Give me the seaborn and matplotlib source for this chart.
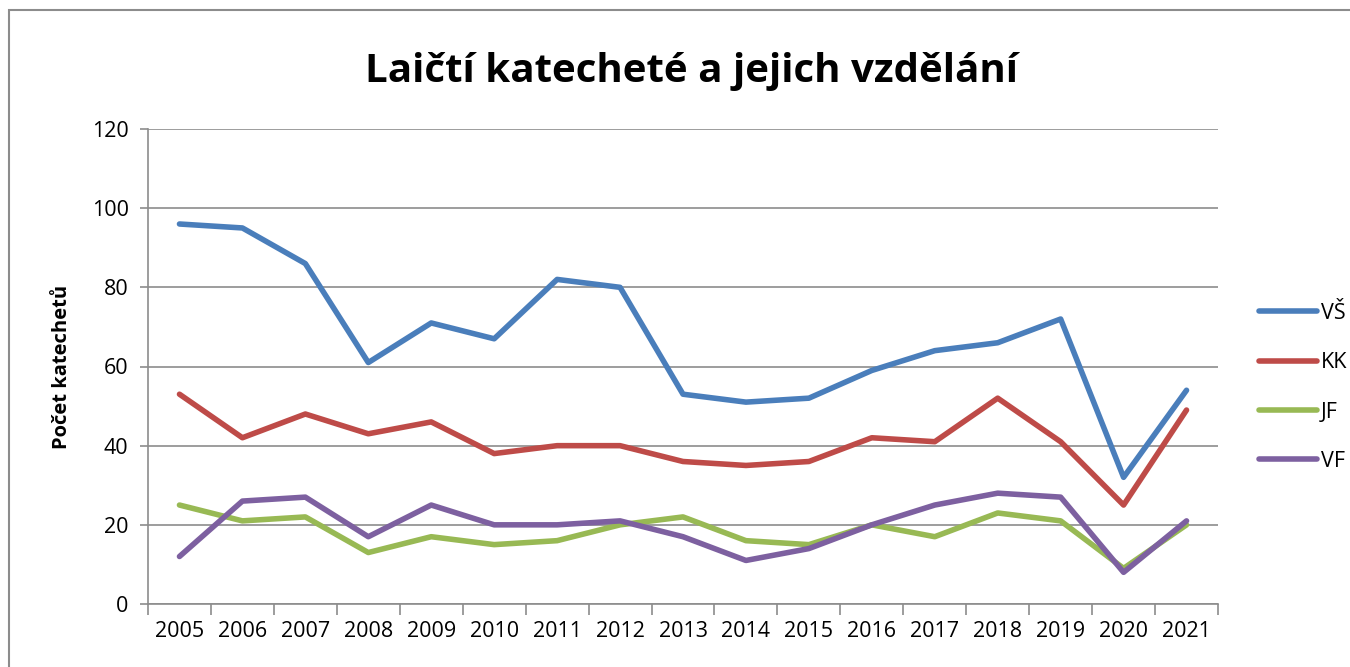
import matplotlib
matplotlib.use("Agg")
import matplotlib.pyplot as plt
import seaborn as sns
import pandas as pd
import numpy as np
from matplotlib.patches import Rectangle

years = ["2005", "2006", "2007", "2008", "2009", "2010", "2011", "2012", "2013",
         "2014", "2015", "2016", "2017", "2018", "2019", "2020", "2021"]
vs = [96, 95, 86, 61, 71, 67, 82, 80, 53, 51, 52, 59, 64, 66, 72, 32, 54]
kk = [53, 42, 48, 43, 46, 38, 40, 40, 36, 35, 36, 42, 41, 52, 41, 25, 49]
jf = [25, 21, 22, 13, 17, 15, 16, 20, 22, 16, 15, 20, 17, 23, 21, 9, 20]
vf = [12, 26, 27, 17, 25, 20, 20, 21, 17, 11, 14, 20, 25, 28, 27, 8, 21]
series_names = ["VŠ", "KK", "JF", "VF"]
colors = ["#4A7EBB", "#BE4B48", "#98B954", "#7D60A0"]

rows = []
for name, vals in zip(series_names, [vs, kk, jf, vf]):
    for i, v in enumerate(vals):
        rows.append({"idx": i, "value": v, "series": name})
df = pd.DataFrame(rows)

sns.set_theme(style="white")
plt.rcParams['font.family'] = ['Open Sans', 'DejaVu Sans']
plt.rcParams['text.color'] = 'black'
plt.rcParams['axes.labelcolor'] = 'black'
plt.rcParams['xtick.color'] = 'black'
plt.rcParams['ytick.color'] = 'black'

fig = plt.figure(figsize=(13.5, 6.67), dpi=100)
fig.patches.append(Rectangle((9 / 1350, -0.1), 1.2, 1.1 - 10 / 667,
                             transform=fig.transFigure, fill=False,
                             edgecolor="#8c8c8c", linewidth=1.5))
ax = fig.add_axes([148 / 1350, 63 / 667, 1070 / 1350, 475 / 667])

sns.lineplot(data=df, x="idx", y="value", hue="series", palette=colors,
             hue_order=series_names, linewidth=4, ax=ax, legend=True)

ax.set_xlim(-0.5, len(years) - 0.5)
ax.set_ylim(0, 120)
ax.set_yticks(np.arange(0, 121, 20))
ax.yaxis.grid(True, color="#8c8c8c", linewidth=1.2)
ax.set_xticks(range(len(years)))
ax.set_xticklabels(years)
ax.set_xticks(np.arange(-0.5, len(years), 1), minor=True)
ax.tick_params(axis="x", which="major", length=0, pad=12, labelsize=15.5)
ax.tick_params(axis="x", which="minor", length=8, width=1.2, color="#8c8c8c", direction="out", bottom=True)
ax.tick_params(axis="y", which="major", length=6, width=1.2, color="#8c8c8c", direction="out", left=True, labelsize=15.5, pad=8)
for s in ["top", "right"]:
    ax.spines[s].set_visible(False)
for s in ["left", "bottom"]:
    ax.spines[s].set_color("#8c8c8c")
    ax.spines[s].set_linewidth(1.2)
ax.set_xlabel("")
ax.set_ylabel("Počet katechetů", fontsize=14.5, fontweight="bold", labelpad=14)

fig.text(0.512, 0.893, "Laičtí katecheté a jejich vzdělání", ha="center", va="center",
         fontsize=29, fontweight="bold")

leg = ax.legend(loc="upper left", bbox_to_anchor=(1.02, 0.675), frameon=False,
                fontsize=15.5, handlelength=2.7, handletextpad=0.2, labelspacing=1.32)
for line in leg.get_lines():
    line.set_linewidth(4)
    line.set_solid_capstyle("round")

fig.savefig("out.png", dpi=100)
